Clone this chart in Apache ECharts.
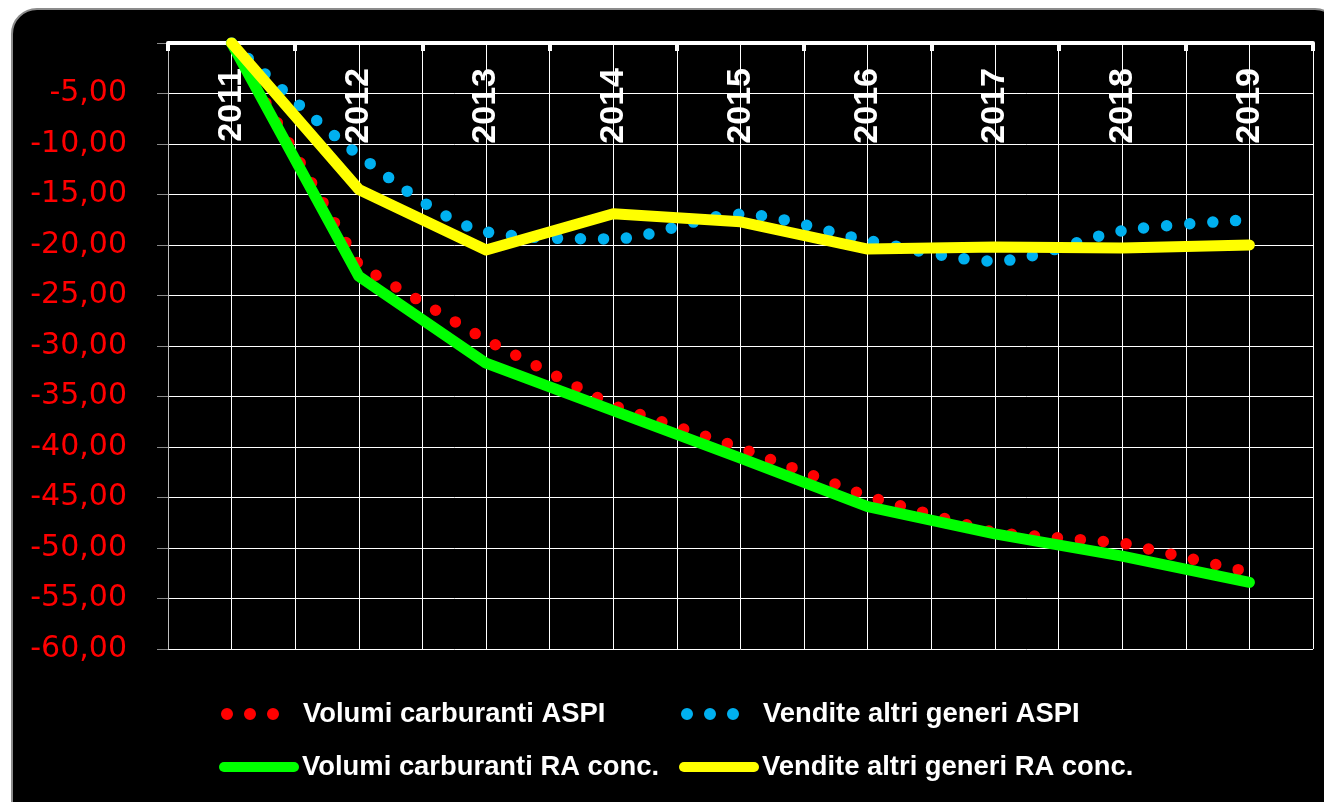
<!DOCTYPE html>
<html>
<head>
<meta charset="utf-8">
<script src="https://cdn.jsdelivr.net/npm/echarts@6/dist/echarts.min.js"></script>
<style>
  html, body { margin: 0; padding: 0; background: #ffffff; width: 1324px; height: 802px; overflow: hidden; }
  #frame { position: absolute; left: 11px; top: 8px; width: 1330px; height: 820px; background: #000; border: 2px solid #8c8c8c; border-radius: 26px; box-sizing: border-box; }
  #chart { position: absolute; left: 0; top: 0; width: 1324px; height: 802px; }
</style>
</head>
<body>
<div id="frame"></div>
<div id="chart"></div>
<script>
const years = ['2011', '2012', '2013', '2014', '2015', '2016', '2017', '2018', '2019'];
const volumiASPI = [0, -22.0, -29.4, -35.9, -40.1, -44.9, -48.5, -49.5, -52.4];
const venditeASPI = [0, -11.1, -18.7, -19.4, -16.95, -19.55, -21.6, -18.6, -17.5];
const volumiRA = [0, -23.1, -31.7, -36.4, -41.1, -45.9, -48.6, -50.8, -53.4];
const venditeRA = [0, -14.5, -20.5, -16.9, -17.7, -20.4, -20.2, -20.3, -20.0];
const seriesNames = ['Volumi carburanti ASPI', 'Vendite altri generi ASPI', 'Volumi carburanti RA conc.', 'Vendite altri generi RA conc.'];

const chart = echarts.init(document.getElementById('chart'), null, { renderer: 'canvas' });

const legendText = { color: '#ffffff', fontWeight: 'bold', fontSize: 27.4, fontFamily: 'Liberation Sans', lineHeight: 28, padding: [0, 0, 0, 3] };
function mkLegend(name, left, top, dotted) {
  const l = {
    data: [name], left: left, top: top, padding: 0, orient: 'horizontal',
    itemWidth: 70, itemHeight: 28, textStyle: legendText, selectedMode: false,
    itemStyle: { opacity: 0 }
  };
  if (dotted) {
    l.lineStyle = { type: [0, 23, 0, 23, 0, 90], dashOffset: -2, width: 12, cap: 'round' };
  } else {
    l.lineStyle = { width: 10, cap: 'round' };
  }
  return l;
}

const option = {
  backgroundColor: 'transparent',
  animation: false,
  grid: { left: 168, right: 11, top: 43, bottom: 153, containLabel: false },
  legend: [
    mkLegend(seriesNames[0], 219, 700, true),
    mkLegend(seriesNames[1], 679, 700, true),
    mkLegend(seriesNames[2], 219, 753, false),
    mkLegend(seriesNames[3], 679, 753, false)
  ],
  xAxis: [
    {
      type: 'category', data: years, position: 'top', boundaryGap: true,
      axisLine: { show: true, lineStyle: { color: '#ffffff', width: 4 } },
      axisTick: { show: true, inside: true, length: 8, lineStyle: { color: '#ffffff', width: 4 } },
      axisLabel: { inside: true, rotate: 90, margin: 25, color: '#ffffff', fontWeight: 'bold', fontSize: 34, fontFamily: 'Liberation Sans' },
      splitLine: { show: false }
    },
    {
      type: 'value', min: 0, max: 9, interval: 0.5, position: 'bottom',
      axisLine: { show: false }, axisTick: { show: false }, axisLabel: { show: false },
      splitLine: { show: true, lineStyle: { color: '#ffffff', width: 1 } }
    }
  ],
  yAxis: {
    type: 'value', min: -60, max: 0, interval: 5,
    axisLine: { show: true, lineStyle: { color: '#bfbfbf', width: 1 } },
    axisTick: { show: true, length: 11, lineStyle: { color: '#8c8c8c', width: 1 } },
    axisLabel: {
      color: '#ff0000', fontSize: 30, fontFamily: 'DejaVu Sans', margin: 41,
      formatter: function (v) { return v === 0 ? '' : v.toFixed(2).replace('.', ','); }
    },
    splitLine: { show: true, lineStyle: { color: '#ffffff', width: 1 } }
  },
  series: [
    {
      name: seriesNames[0], type: 'line', data: volumiASPI, symbol: 'none', smooth: false,
      lineStyle: { color: '#ff0000', width: 11.5, type: [0, 23], cap: 'round' }, itemStyle: { color: '#ff0000' }, z: 2
    },
    {
      name: seriesNames[1], type: 'line', data: venditeASPI, symbol: 'none', smooth: 0.3,
      lineStyle: { color: '#00b0f0', width: 11.5, type: [0, 23], cap: 'round' }, itemStyle: { color: '#00b0f0' }, z: 2
    },
    {
      name: seriesNames[2], type: 'line', data: volumiRA, symbol: 'none',
      lineStyle: { color: '#00ff00', width: 11, cap: 'round', join: 'round' }, itemStyle: { color: '#00ff00' }, z: 3
    },
    {
      name: seriesNames[3], type: 'line', data: venditeRA, symbol: 'none',
      lineStyle: { color: '#ffff00', width: 11, cap: 'round', join: 'round' }, itemStyle: { color: '#ffff00' }, z: 3
    }
  ]
};
chart.setOption(option);
</script>
</body>
</html>
